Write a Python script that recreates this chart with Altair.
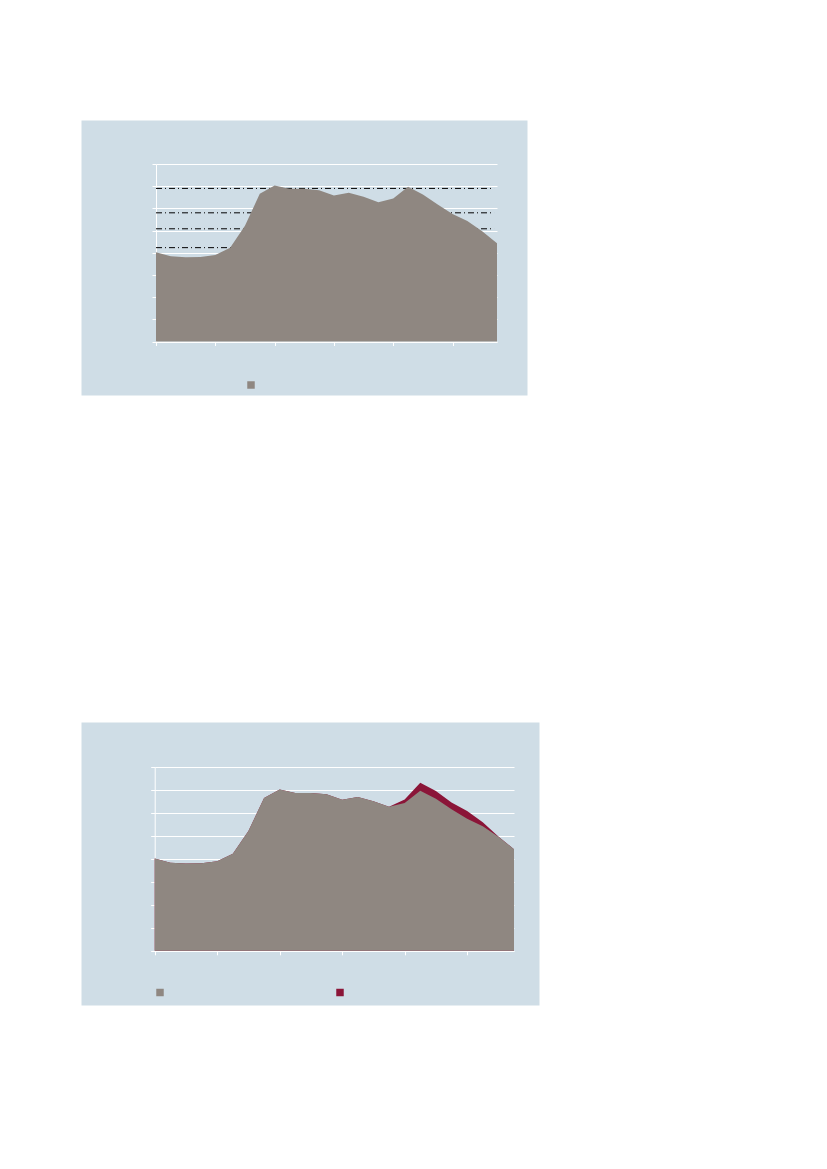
import altair as alt
import pandas as pd

# ---- data ----
periods = list(range(24))
main_values = [4.02, 3.84, 3.80, 3.81, 3.90, 4.23, 5.22, 6.66, 7.03, 6.88, 6.88, 6.82,
               6.58, 6.70, 6.52, 6.28, 6.44, 6.97, 6.62, 6.17, 5.75, 5.43, 4.97, 4.43]
upper_values = [4.02, 3.84, 3.80, 3.81, 3.90, 4.23, 5.22, 6.66, 7.03, 6.88, 6.88, 6.82,
                6.58, 6.70, 6.52, 6.28, 6.59, 7.32, 6.96, 6.46, 6.09, 5.60, 4.98, 4.43]
ref_levels = [6.90, 5.80, 5.08, 4.23]
x_ticks = [0, 4, 8, 12, 16, 20]
y_ticks = [0, 1, 2, 3, 4, 5, 6, 7, 8]
series_names = ["A", "B"]

BG = "#CFDDE6"
GRAY = "#8F8781"
RED = "#8B1538"

df_main = pd.DataFrame({"i": periods, "v": main_values, "s": series_names[0]})
df_upper = pd.DataFrame({"i": periods, "v": upper_values, "s": series_names[1]})
df_ref = pd.DataFrame({"v": ref_levels})


def encodings(x_range, y_range, left_off, bottom_off):
    x = alt.X("i:Q",
              scale=alt.Scale(domain=[0, 23], range=x_range, nice=False, zero=False),
              axis=alt.Axis(values=x_ticks, labels=False, tickSize=4, grid=False,
                            offset=bottom_off, title=None))
    y = alt.Y("v:Q",
              scale=alt.Scale(domain=[0, 8], range=y_range, nice=False),
              axis=alt.Axis(values=y_ticks, labels=False, tickSize=4, grid=True,
                            offset=left_off, title=None),
              stack=None)
    return x, y


# ---- chart 1 ----
x1, y1 = encodings([75, 416], [221.5, 44], -75, -53.5)
rules1 = alt.Chart(df_ref).mark_rule(color="black", strokeWidth=1, strokeDash=[6, 3, 1, 3]).encode(
    y=y1, x=alt.datum(0), x2=alt.datum(22.8)
)
area1 = alt.Chart(df_main).mark_area(opacity=1, interpolate="linear").encode(
    x=x1, y=y1,
    color=alt.Color("s:N",
                    scale=alt.Scale(domain=[series_names[0]], range=[GRAY]),
                    legend=alt.Legend(orient="none", legendX=165, legendY=260, title=None,
                                      labelExpr="''", symbolType="square", symbolSize=56,
                                      symbolStrokeWidth=0, direction="horizontal",
                                      labelOffset=0, padding=0))
)
chart1 = alt.layer(rules1, area1).properties(width=446, height=275)

# ---- chart 2 ----
x2, y2 = encodings([73.7, 433], [228.8, 45.2], -73.7, -54.2)
color2 = alt.Color("s:N",
                   scale=alt.Scale(domain=series_names, range=[GRAY, RED]),
                   legend=alt.Legend(orient="none", legendX=74, legendY=265.5, title=None,
                                     labelExpr="''", symbolType="square", symbolSize=56,
                                     symbolStrokeWidth=0, direction="horizontal",
                                     labelOffset=0, columnPadding=170, padding=0))
area2_upper = alt.Chart(df_upper).mark_area(opacity=1, interpolate="linear").encode(
    x=x2, y=y2, color=color2
)
area2_main = alt.Chart(df_main).mark_area(opacity=1, interpolate="linear").encode(
    x=x2, y=y2, color=color2
)
chart2 = alt.layer(area2_upper, area2_main).properties(width=458, height=283)

chart = alt.vconcat(chart1, chart2, spacing=325).resolve_scale(
    x="independent", y="independent", color="independent"
).resolve_legend(color="independent").properties(
    padding={"left": 72, "top": 111, "right": 0, "bottom": 0}
).configure_view(
    fill=BG, stroke="transparent"
).configure_axis(
    domainColor="white", tickColor="white", gridColor="white",
    gridWidth=1, domainWidth=1, tickWidth=1
)

chart.save("out.html", embed_options={"renderer": "svg", "actions": False})
